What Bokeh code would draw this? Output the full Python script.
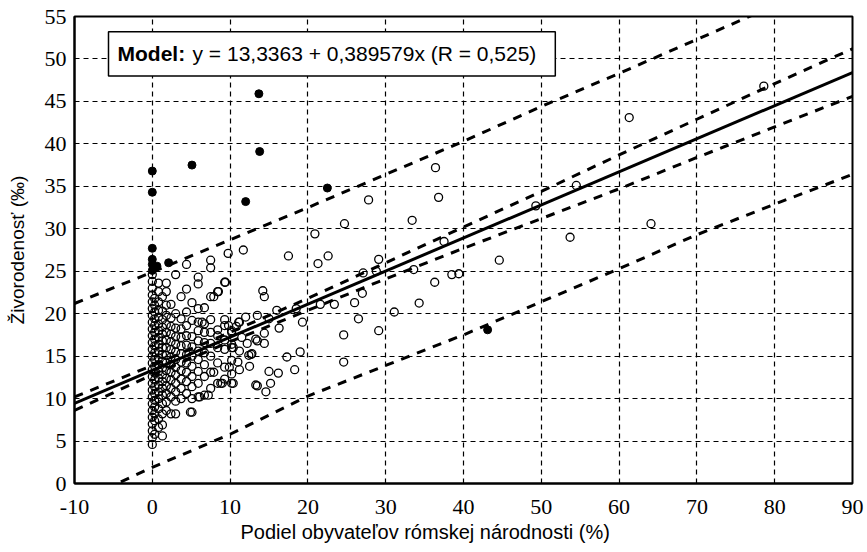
from bokeh.plotting import figure
from bokeh.models import Label, BoxAnnotation, FixedTicker, Title
from bokeh.embed import file_html
from bokeh.resources import INLINE

# ---------------- data ----------------
intercept = 13.3363
slope = 0.389579
model_text = "y = 13,3363 + 0,389579x (R = 0,525)"

x_ticks = [-10, 0, 10, 20, 30, 40, 50, 60, 70, 80, 90]
y_ticks = [0, 5, 10, 15, 20, 25, 30, 35, 40, 45, 50, 55]
x_tick_labels = ["-10", "0", "10", "20", "30", "40", "50", "60", "70", "80", "90"]

band_x = [-10, 0, 10, 20, 30, 40, 50, 60, 70, 80, 90]
pred_upper = [21.2, 24.9, 28.7, 32.5, 36.4, 40.3, 44.4, 48.3, 52.3, 56.3, 60.3]
pred_lower = [-2.3, 1.9, 5.8, 10.3, 13.9, 17.5, 21.4, 25.3, 29.3, 32.9, 36.4]
conf_upper = [10.2, 13.9, 17.8, 21.8, 26.0, 30.2, 34.4, 38.7, 42.9, 47.1, 51.2]
conf_lower = [8.6, 12.8, 16.7, 20.4, 24.1, 27.7, 31.2, 34.7, 38.4, 42.0, 45.6]

# dense columns of open circles near x = 0 .. 11
col_x = [0.0, 0.3, 0.8, 1.3, 1.8, 2.4, 3.0, 3.7, 4.4, 5.1, 5.9, 6.7, 7.5, 8.4, 9.3, 10.2, 11.2]
col_y = [
    [4.6, 5.4, 6.2, 7.0, 7.8, 8.6, 9.4, 10.2, 11.0, 11.8, 12.6, 13.4, 14.2, 15.0, 15.8, 16.6,
     17.4, 18.2, 19.0, 19.8, 20.6, 21.4, 22.2, 23.0, 23.8, 24.6],
    [5.8, 7.4, 8.2, 9.0, 9.8, 10.6, 11.4, 12.2, 13.0, 13.8, 14.6, 15.4, 16.2, 17.0, 17.8, 18.6,
     19.4, 20.2, 21.0, 21.8],
    [6.6, 7.6, 8.8, 10.0, 10.8, 11.6, 12.4, 13.2, 14.0, 14.8, 15.6, 16.4, 17.2, 18.0, 18.8,
     19.6, 20.4, 21.4, 22.6, 23.6],
    [5.6, 6.9, 8.2, 9.4, 10.4, 11.2, 12.0, 12.8, 13.6, 14.4, 15.2, 16.0, 16.8, 17.6, 18.4,
     19.3, 20.3, 22.0],
    [8.6, 9.6, 10.6, 11.5, 12.4, 13.3, 14.2, 15.1, 16.0, 16.9, 17.8, 18.7, 19.8, 21.0, 22.6, 23.6],
    [8.2, 10.2, 11.2, 12.2, 13.1, 14.0, 14.9, 15.8, 16.7, 17.6, 18.5, 19.5, 21.1],
    [8.2, 9.7, 10.8, 11.8, 12.8, 13.7, 14.6, 15.5, 16.4, 17.3, 18.3, 20.0, 24.6],
    [10.0, 11.2, 12.3, 13.3, 14.3, 15.3, 16.2, 17.2, 18.2, 19.4, 22.0],
    [10.6, 12.0, 13.1, 14.2, 15.2, 16.3, 17.4, 18.6, 20.2, 22.9, 25.8],
    [8.4, 10.0, 11.4, 12.6, 13.8, 15.0, 16.1, 17.3, 19.2, 21.3],
    [10.2, 11.8, 13.2, 14.6, 15.6, 16.8, 18.0, 19.0, 20.6, 23.5, 24.3],
    [10.4, 12.6, 14.0, 15.4, 16.6, 17.8, 18.8, 20.7],
    [11.2, 13.1, 15.0, 16.5, 17.8, 19.3, 22.0, 25.4, 26.3],
    [11.8, 14.2, 16.0, 17.4, 18.1, 22.6],
    [12.3, 13.7, 15.8, 16.9, 18.6, 19.3, 23.7],
    [11.8, 12.9, 14.5, 16.0, 16.4, 17.8, 18.0],
    [13.4, 15.6, 19.0],
]

# scattered open circles
open_x = [36.4, 36.8, 27.8, 33.4, 24.7, 20.9, 17.5, 21.3, 22.6, 29.1, 44.6, 37.5, 27.1, 28.8,
          33.6, 38.5, 39.4, 36.3, 14.2, 14.4, 27.0, 26.0, 21.6, 23.4, 34.3, 31.1, 26.5, 19.3,
          29.1, 24.6, 24.6, 13.5, 15.0, 16.3, 13.3, 14.4, 14.4, 17.3, 19.0, 12.7, 15.0, 16.2,
          18.3, 13.3, 15.2, 14.6, 49.3, 61.3, 54.5, 64.1, 53.7, 78.6, 9.75, 11.7, 9.4, 8.5,
          7.9, 12.0, 11.1, 13.5, 9.8, 6.4, 10.4, 12.4, 12.8, 13.5, 9.0, 7.9, 9.9, 10.4, 8.8,
          16.0, 18.5, 11.5, 12.2, 11.0, 12.5, 10.8, 6.1, 7.2, 4.9]
open_y = [37.2, 33.7, 33.4, 31.0, 30.6, 29.4, 26.8, 25.9, 26.8, 26.4, 26.3, 28.5, 24.8, 25.0,
          25.2, 24.6, 24.7, 23.7, 22.7, 22.0, 22.4, 21.3, 21.1, 21.1, 21.25, 20.2, 19.4, 19.0,
          18.0, 17.5, 14.3, 19.8, 19.4, 18.3, 17.0, 17.7, 16.5, 14.9, 15.5, 15.2, 13.2, 13.0,
          13.4, 11.6, 11.8, 10.8, 32.7, 43.1, 35.1, 30.6, 29.0, 46.8, 27.1, 27.5, 23.7, 22.6,
          22.0, 19.6, 19.0, 16.8, 18.6, 19.0, 16.0, 15.1, 15.3, 11.5, 11.8, 13.1, 13.7, 11.8,
          11.8, 20.4, 20.6, 17.2, 16.5, 14.3, 13.8, 18.5, 10.2, 10.4, 8.4]

# filled circles (outliers)
filled_x = [0.0, 0.0, 5.1, 13.7, 13.8, 12.0, 22.5, 43.1, 0.0, 0.0, 0.0, 0.0, 2.1, 0.6]
filled_y = [36.8, 34.3, 37.5, 45.9, 39.1, 33.2, 34.8, 18.1, 27.7, 26.4, 25.8, 25.1, 26.0, 25.6]

# ---------------- plot ----------------
SANS = "Liberation Sans"
SERIF = "Liberation Serif"

p = figure(width=867, height=552, x_range=(-10, 90), y_range=(0, 55),
           output_backend="svg", toolbar_location=None,
           min_border_left=74, min_border_right=15, min_border_top=16, min_border_bottom=69)
p.background_fill_color = "white"
p.border_fill_color = "white"
p.outline_line_color = "black"
p.outline_line_width = 2

p.xaxis.ticker = FixedTicker(ticks=x_ticks)
p.yaxis.ticker = FixedTicker(ticks=y_ticks)
p.xaxis.major_label_overrides = {t: s for t, s in zip(x_ticks, x_tick_labels)}
p.axis.major_tick_out = 0
p.axis.major_tick_in = 0
p.axis.minor_tick_out = 0
p.axis.minor_tick_in = 0
p.axis.axis_line_color = "black"
p.axis.axis_line_width = 2
p.axis.major_label_text_font = SERIF
p.axis.major_label_text_font_size = "22px"
p.axis.major_label_text_color = "black"
p.xaxis.major_label_standoff = 16
p.yaxis.major_label_standoff = 8

p.yaxis.axis_label = "Živorodenosť (‰)"
p.yaxis.axis_label_text_font = SANS
p.yaxis.axis_label_text_font_size = "19px"
p.yaxis.axis_label_text_font_style = "normal"
p.yaxis.axis_label_text_color = "black"
p.yaxis.axis_label_standoff = 14

p.grid.grid_line_color = "black"
p.grid.grid_line_dash = "5 4"
p.grid.grid_line_width = 1.2
p.xgrid.ticker = FixedTicker(ticks=x_ticks)
p.ygrid.ticker = FixedTicker(ticks=y_ticks)

# open circles
all_x = []
all_y = []
for cx, ys in zip(col_x, col_y):
    for yy in ys:
        all_x.append(cx)
        all_y.append(yy)
all_x += open_x
all_y += open_y
p.scatter(all_x, all_y, marker="circle", size=8, fill_color=None,
          line_color="black", line_width=1.3)
p.scatter(filled_x, filled_y, marker="circle", size=8, fill_color="black",
          line_color="black")

# bands
for arr in (pred_upper, pred_lower, conf_upper, conf_lower):
    p.line(band_x, arr, line_color="black", line_width=3, line_dash="9 8")

# regression line
fit_x = [x_ticks[0], x_ticks[-1]]
fit_y = [intercept + slope * xx for xx in fit_x]
p.line(fit_x, fit_y, line_color="black", line_width=3)

# model box
box = BoxAnnotation(left=-5.63, right=51.8, bottom=48.0, top=53.2,
                    fill_color="white", fill_alpha=1.0, line_color="black",
                    line_width=1.5, line_alpha=1.0)
p.add_layout(box)
p.add_layout(Label(x=-4.47, y=50.6, text="Model:", text_font=SANS,
                   text_font_style="bold", text_font_size="21px",
                   text_baseline="middle", text_color="black"))
p.add_layout(Label(x=-4.47, x_offset=75, y=50.6, text=model_text, text_font=SANS,
                   text_font_size="21px", text_baseline="middle", text_color="black"))

# x-axis title (placed as in the reference, slightly left of centre)
xt = Title(text="Podiel obyvateľov rómskej národnosti (%)", align="left", offset=166,
           text_font=SANS, text_font_size="20px", text_font_style="normal",
           text_color="black", standoff=5)
p.add_layout(xt, "below")

open("out.html", "w").write(file_html(p, INLINE))
